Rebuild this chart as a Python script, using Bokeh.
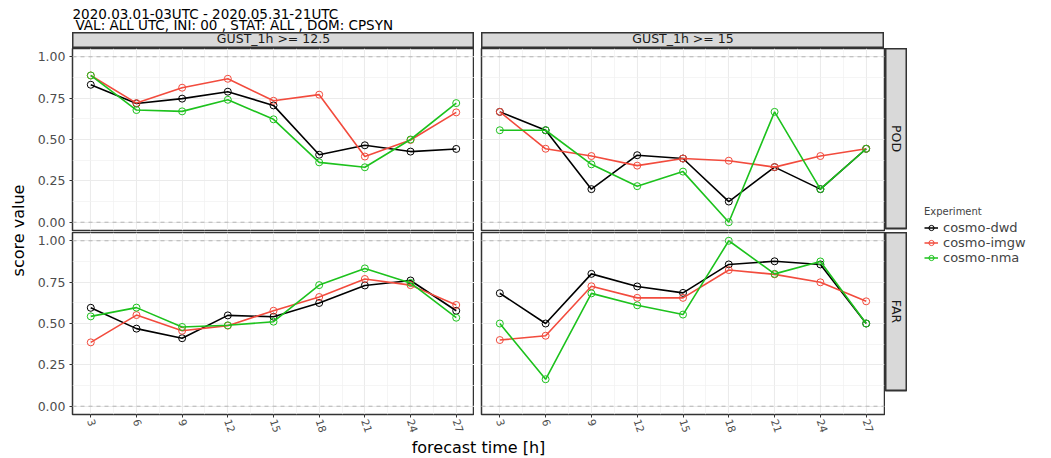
import math
from bokeh.plotting import figure
from bokeh.layouts import row, column
from bokeh.models import (FixedTicker, Grid, LinearAxis, Span, Range1d, Label,
                          Legend, LegendItem, Spacer, PrintfTickFormatter)
from bokeh.embed import file_html
from bokeh.resources import INLINE

# ---------------- data ----------------
lead_times = [3, 6, 9, 12, 15, 18, 21, 24, 27]
experiments = ["cosmo-dwd", "cosmo-imgw", "cosmo-nma"]
thresholds = ["GUST_1h >= 12.5", "GUST_1h >= 15"]
scores = ["POD", "FAR"]
y_ticks = [0.0, 0.25, 0.5, 0.75, 1.0]

pod_125_dwd = [0.831, 0.718, 0.747, 0.789, 0.706, 0.408, 0.465, 0.427, 0.443]
pod_125_imgw = [0.887, 0.720, 0.813, 0.867, 0.734, 0.771, 0.397, 0.497, 0.664]
pod_125_nma = [0.887, 0.678, 0.670, 0.740, 0.622, 0.362, 0.332, 0.500, 0.720]

pod_15_dwd = [0.667, 0.556, 0.200, 0.405, 0.385, 0.125, 0.333, 0.200, 0.444]
pod_15_imgw = [0.667, 0.444, 0.400, 0.342, 0.385, 0.372, 0.333, 0.400, 0.444]
pod_15_nma = [0.556, 0.556, 0.350, 0.218, 0.306, 0.000, 0.667, 0.200, 0.444]

far_125_dwd = [0.595, 0.469, 0.411, 0.549, 0.541, 0.624, 0.730, 0.760, 0.577]
far_125_imgw = [0.386, 0.551, 0.456, 0.487, 0.577, 0.660, 0.769, 0.732, 0.612]
far_125_nma = [0.543, 0.596, 0.479, 0.489, 0.511, 0.732, 0.833, 0.745, 0.535]

far_15_dwd = [0.683, 0.500, 0.800, 0.724, 0.685, 0.857, 0.876, 0.857, 0.500]
far_15_imgw = [0.400, 0.426, 0.725, 0.655, 0.655, 0.823, 0.797, 0.749, 0.634]
far_15_nma = [0.500, 0.163, 0.682, 0.610, 0.554, 1.000, 0.800, 0.875, 0.500]

colors = {"cosmo-dwd": "#000000", "cosmo-imgw": "#F24B3D", "cosmo-nma": "#1DC21D"}

panel_data = {
    ("POD", 0): [pod_125_dwd, pod_125_imgw, pod_125_nma],
    ("POD", 1): [pod_15_dwd, pod_15_imgw, pod_15_nma],
    ("FAR", 0): [far_125_dwd, far_125_imgw, far_125_nma],
    ("FAR", 1): [far_15_dwd, far_15_imgw, far_15_nma],
}

FONT = "DejaVu Sans"
x_minor = [(a + b) / 2 for a, b in zip(lead_times[:-1], lead_times[1:])]
y_minor = [(a + b) / 2 for a, b in zip(y_ticks[:-1], y_ticks[1:])]
span_x = lead_times[-1] - lead_times[0]
x_lo, x_hi = lead_times[0] - 0.05 * span_x, lead_times[-1] + 0.05 * span_x

FW_L, FW_R = 402, 403
FH_TOP, FH_BOT = 182, 182
HEADER_H, STRIP_H, GAP, AXIS_H, XLAB_H = 32, 16, 2, 24, 20
BORDER = "#333333"


def make_panel(score, col, left_axis, bottom_axis):
    mb_l = 40 if col == 0 else 7
    mb_r = 0 if col == 0 else 1
    fw = FW_L if col == 0 else FW_R
    mb_b = AXIS_H if bottom_axis else GAP
    fh = FH_BOT if bottom_axis else FH_TOP
    p = figure(width=mb_l + fw + mb_r, height=fh + mb_b,
               x_range=Range1d(x_lo, x_hi), y_range=Range1d(-0.05, 1.05),
               output_backend="svg", toolbar_location=None,
               x_axis_location=None, y_axis_location=None,
               min_border_left=mb_l, min_border_right=mb_r,
               min_border_top=0, min_border_bottom=mb_b,
               background_fill_color="white", border_fill_color="white",
               outline_line_color=BORDER, outline_line_width=1.5)
    p.grid.visible = False
    p.add_layout(Grid(dimension=0, ticker=FixedTicker(ticks=lead_times, minor_ticks=x_minor),
                      grid_line_color="#EBEBEB", grid_line_width=1.1,
                      minor_grid_line_color="#F0F0F0", minor_grid_line_width=0.7))
    p.add_layout(Grid(dimension=1, ticker=FixedTicker(ticks=y_ticks, minor_ticks=y_minor),
                      grid_line_color="#EBEBEB", grid_line_width=1.1,
                      minor_grid_line_color="#F0F0F0", minor_grid_line_width=0.7))
    for loc in (y_ticks[0], y_ticks[-1]):
        p.add_layout(Span(location=loc, dimension="width", line_color="#B3B3B3",
                          line_width=1, line_dash="4 4"))
    if left_axis:
        ax = LinearAxis(ticker=FixedTicker(ticks=y_ticks),
                        formatter=PrintfTickFormatter(format="%.2f"),
                        axis_line_color=None, major_tick_line_color=BORDER,
                        major_tick_in=0, major_tick_out=3, minor_tick_line_color=None,
                        major_label_text_color="#4D4D4D", major_label_text_font=FONT,
                        major_label_text_font_size="12.5px", major_label_standoff=4)
        p.add_layout(ax, "left")
    if bottom_axis:
        ax = LinearAxis(ticker=FixedTicker(ticks=lead_times),
                        axis_line_color=None, major_tick_line_color=BORDER,
                        major_tick_in=0, major_tick_out=3, minor_tick_line_color=None,
                        major_label_text_color="#4D4D4D", major_label_text_font=FONT,
                        major_label_text_font_size="10.5px", major_label_standoff=2,
                        major_label_orientation=-1.25)
        p.add_layout(ax, "below")
    for exp, vals in zip(experiments, panel_data[(score, col)]):
        c = colors[exp]
        p.line(lead_times, vals, line_color=c, line_width=1.6)
        p.scatter(lead_times, vals, marker="circle", size=7, fill_color=None,
                  line_color=c, line_width=1)
    return p


def make_strip(text, w, h, vertical=False):
    s = figure(width=w, height=h, x_range=Range1d(0, 1), y_range=Range1d(0, 1),
               output_backend="svg", toolbar_location=None,
               x_axis_location=None, y_axis_location=None, min_border=0,
               background_fill_color="#D9D9D9", border_fill_color="white",
               outline_line_color=BORDER, outline_line_width=2)
    s.grid.visible = False
    s.add_layout(Label(x=0.5, y=0.5 if vertical else 0.6, text=text, text_align="center",
                       text_baseline="middle", angle=-math.pi / 2 if vertical else 0,
                       text_font=FONT, text_font_size="12.5px", text_color="#1A1A1A"))
    return s


def blank(w, h, x0=0, y0=0):
    f = figure(width=w, height=h, x_range=Range1d(x0, x0 + w), y_range=Range1d(y0, y0 + h),
               output_backend="svg", toolbar_location=None,
               x_axis_location=None, y_axis_location=None, min_border=0,
               outline_line_color=None, background_fill_alpha=0, border_fill_alpha=0)
    f.grid.visible = False
    return f


LEFT_W = 32
GRID_W = 40 + FW_L + 7 + FW_R + 1 + 22
LEG_W = 140
TOTAL_W = LEFT_W + GRID_W + LEG_W
BODY_H = STRIP_H + FH_TOP + GAP + FH_BOT + AXIS_H + XLAB_H
TOTAL_H = HEADER_H + BODY_H

# header
header = blank(TOTAL_W, HEADER_H)
header.add_layout(Label(x=72, y=HEADER_H - 13, text="2020.03.01-03UTC - 2020.05.31-21UTC",
                        text_baseline="middle", text_font=FONT, text_font_size="13.5px",
                        text_color="#000000"))
header.add_layout(Label(x=75, y=HEADER_H - 24.5,
                        text="VAL: ALL UTC, INI:  00 , STAT:  ALL , DOM: CPSYN",
                        text_baseline="middle", text_font=FONT, text_font_size="13.5px",
                        text_color="#000000"))

strips_row = row(Spacer(width=40, height=STRIP_H),
                 make_strip(thresholds[0], FW_L, STRIP_H),
                 Spacer(width=7, height=STRIP_H),
                 make_strip(thresholds[1], FW_R, STRIP_H), spacing=0)

top_row = row(make_panel("POD", 0, True, False), make_panel("POD", 1, False, False),
              make_strip(scores[0], 22, FH_TOP, vertical=True), spacing=0)
bottom_row = row(make_panel("FAR", 0, True, True), make_panel("FAR", 1, False, True),
                 make_strip(scores[1], 22, FH_BOT, vertical=True), spacing=0)

xlab = blank(GRID_W, XLAB_H)
xlab.add_layout(Label(x=40 + (FW_L + 7 + FW_R) / 2, y=XLAB_H / 2 + 1, text="forecast time [h]",
                      text_align="center", text_baseline="middle", text_font=FONT,
                      text_font_size="16px", text_color="#000000"))

grid_col = column(strips_row, top_row, bottom_row, xlab, spacing=0)

ylab = blank(LEFT_W, BODY_H)
ylab.add_layout(Label(x=18, y=BODY_H - 198, text="score value", text_align="center",
                      text_baseline="middle", angle=math.pi / 2, text_font=FONT,
                      text_font_size="16px", text_color="#000000"))

# legend panel: renderers carry real data but sit outside this panel's view
lg = blank(LEG_W, BODY_H, x0=1000, y0=1000)
items = []
for exp, vals in zip(experiments, panel_data[("POD", 0)]):
    c = colors[exp]
    r1 = lg.line(lead_times, vals, line_color=c, line_width=1.5)
    r2 = lg.scatter(lead_times, vals, marker="circle", size=6, fill_color=None, line_color=c)
    items.append(LegendItem(label=exp, renderers=[r1, r2]))
legend = Legend(items=items, title="Experiment", location=(17, TOTAL_H - 265),
                title_text_font=FONT, title_text_font_size="10px", title_text_font_style="normal",
                label_text_font=FONT, label_text_font_size="13px",
                glyph_width=14, glyph_height=13, label_height=13, label_standoff=5,
                spacing=-2, padding=0, margin=0, title_standoff=3,
                border_line_color=None, background_fill_alpha=0)
lg.add_layout(legend, "center")

body = row(ylab, grid_col, lg, spacing=0)
p = column(header, body, spacing=0)

open("out.html", "w").write(file_html(p, INLINE))
